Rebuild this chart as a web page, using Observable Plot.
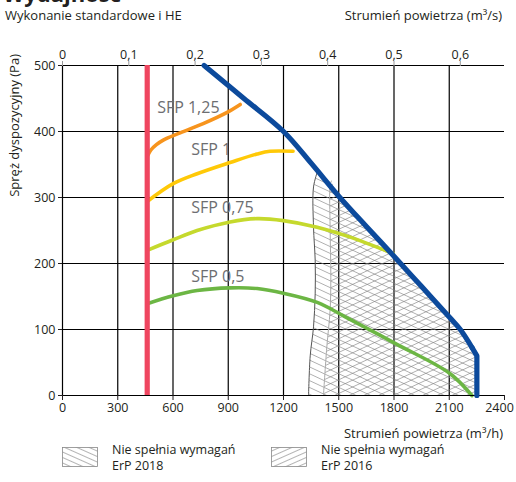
<!DOCTYPE html>
<html><head><meta charset="utf-8">
<script src="https://cdn.jsdelivr.net/npm/d3@7"></script>
<script src="https://cdn.jsdelivr.net/npm/@observablehq/plot@0.6"></script>
<style>body{margin:0;background:#fff}</style>
</head><body><div id="chart"></div>
<script>
// ---- tick labels ----
const xTicks = [0, 300, 600, 900, 1200, 1500, 1800, 2100, 2400];
const xGrid = [300, 600, 900, 1200, 1500, 1800, 2100];
const yTicks = [0, 100, 200, 300, 400, 500];
const topTicks = [0, 360, 720, 1080, 1440, 1800, 2160];          // m3/h equivalents
const topTickLabels = ["0", "0,1", "0,2", "0,3", "0,4", "0,5", "0,6"]; // m3/s

// ---- minimum flow (red) ----
const minFlow = [460];

// ---- maximum fan curve (blue): smooth part, then corner ----
const maxFlow = [769, 985, 1200, 1350, 1500, 1650, 1800, 1950, 2100, 2160, 2225];
const maxPressure = [500, 450, 400, 352, 302, 256, 211, 165, 119, 100, 72];
const maxCornerFlow = [2225, 2250, 2250];
const maxCornerPressure = [72, 60, 0];

// ---- SFP curves ----
const sfp125Flow = [460, 480, 510, 547, 639, 764, 894, 965];
const sfp125Pressure = [362, 372, 380, 387, 398, 412, 429, 441];
const sfp1Flow = [460, 601, 731, 910, 1057, 1127, 1252];
const sfp1Pressure = [294, 321, 336, 353, 366, 370, 370];
const sfp075Flow = [460, 601, 731, 910, 1057, 1199, 1383, 1562, 1796];
const sfp075Pressure = [220, 236, 250, 263, 268, 265, 255, 240, 215];
const sfp05Flow = [460, 601, 731, 910, 1057, 1199, 1383, 1530, 1806, 2105, 2223];
const sfp05Pressure = [139, 151, 159, 163, 162, 155, 141, 120, 79, 33, 0];

const sfpNames = ["SFP 1,25", "SFP 1", "SFP 0,75", "SFP 0,5"];
const sfpColors = ["#f7941d", "#ffc907", "#c5d92d", "#6cb644"];
const sfpLabelFlow = [514, 699, 699, 699];
const sfpLabelPressure = [436, 372, 284, 179];

// ---- ErP region left edges (the right edge is the blue curve) ----
const erp2018EdgeFlow = [1336, 1345, 1363, 1372, 1372, 1363, 1363, 1385];
const erp2018EdgePressure = [0, 60, 104, 154, 205, 255, 316, 340];
const erp2016EdgeFlow = [1417, 1435, 1453, 1457, 1453, 1453, 1460];
const erp2016EdgePressure = [0, 73, 129, 179, 255, 318, 325];

const legendNames = ["Nie spełnia wymagań", "Nie spełnia wymagań"];
const legendYears = ["ErP 2018", "ErP 2016"];

// ---- build tables ----
const zip = (fx, fy) => fx.map((x, i) => ({x, y: fy[i]}));
const maxCurve = zip(maxFlow, maxPressure);
const maxCorner = zip(maxCornerFlow, maxCornerPressure);
const sfpSeries = [
  zip(sfp125Flow, sfp125Pressure),
  zip(sfp1Flow, sfp1Pressure),
  zip(sfp075Flow, sfp075Pressure),
  zip(sfp05Flow, sfp05Pressure)
];
const sfpLabels = sfpNames.map((t, i) => ({t, x: sfpLabelFlow[i], y: sfpLabelPressure[i]}));
const edge2018 = zip(erp2018EdgeFlow, erp2018EdgePressure);
const edge2016 = zip(erp2016EdgeFlow, erp2016EdgePressure);
const region = edge => {
  const top = edge[edge.length - 1];
  return [...edge, ...maxCurve.filter(d => d.x > top.x), ...maxCorner.slice(1)];
};
const erp2018 = region(edge2018);
const erp2016 = region(edge2016);
const lastTick = xTicks[xTicks.length - 1];

const FONT = "'Open Sans', sans-serif";
const TXT = "#231f20";

const chart = Plot.plot({
  width: 516, height: 482,
  marginLeft: 62, marginRight: 12, marginTop: 65, marginBottom: 87,
  style: {fontFamily: FONT, fontSize: "12.5px", color: TXT, background: "#fff", overflow: "visible"},
  x: {domain: [0, 2400]},
  y: {domain: [0, 500]},
  marks: [
    Plot.gridY(yTicks, {stroke: "#000", strokeOpacity: 1, strokeWidth: 1.2}),
    Plot.gridX(xGrid, {stroke: "#000", strokeOpacity: 1, strokeWidth: 1.2}),
    Plot.line(erp2018, {x: "x", y: "y", fill: "url(#hatch2018)", stroke: "none"}),
    Plot.line(erp2016, {x: "x", y: "y", fill: "url(#hatch2016)", stroke: "none"}),
    Plot.line(edge2018, {x: "x", y: "y", stroke: "#555", strokeWidth: 1, curve: "catmull-rom"}),
    Plot.line(edge2016, {x: "x", y: "y", stroke: "#aaa", strokeWidth: 1, curve: "catmull-rom"}),
    ...sfpSeries.map((s, i) => Plot.line(s, {x: "x", y: "y", stroke: sfpColors[i], strokeWidth: 3.6, curve: "catmull-rom"})),
    Plot.ruleY([0], {stroke: "#000", strokeWidth: 1.2}),
    Plot.ruleX([0], {stroke: "#000", strokeWidth: 1.2}),
    Plot.ruleX(minFlow, {stroke: "#ef4660", strokeWidth: 5.2}),
    Plot.line(maxCurve, {x: "x", y: "y", stroke: "#0c4a9c", strokeWidth: 5.2, curve: "catmull-rom"}),
    Plot.line(maxCorner, {x: "x", y: "y", stroke: "#0c4a9c", strokeWidth: 5.2, curve: "linear", strokeLinejoin: "round"}),
    Plot.text(sfpLabels, {x: "x", y: "y", text: "t", textAnchor: "start", fill: "#6d6e71", fontSize: 16}),
    Plot.axisY({ticks: yTicks, tickSize: 4, tickPadding: 3, label: null}),
    Plot.axisX({anchor: "bottom", ticks: xTicks, tickSize: 5, tickPadding: 3, label: null,
      tickFormat: d => (d === lastTick ? "" : String(d))}),
    Plot.axisX({anchor: "bottom", ticks: [lastTick], tickSize: 0, tickPadding: 8, dx: -5, label: null,
      tickFormat: d => String(d)}),
    Plot.axisX({anchor: "top", ticks: topTicks, tickSize: 5, tickPadding: 2, stroke: "#999", label: null,
      tickFormat: d => topTickLabels[topTicks.indexOf(d)]})
  ]
});

const svg = d3.select(chart);
const defs = svg.insert("defs", ":first-child");
function hatch(id, angle, h) {
  const p = defs.append("pattern").attr("id", id).attr("patternUnits", "userSpaceOnUse")
    .attr("width", 20).attr("height", h).attr("patternTransform", `rotate(${angle})`);
  p.append("line").attr("x1", 0).attr("x2", 20).attr("y1", h / 2).attr("y2", h / 2)
    .attr("stroke", "#808080").attr("stroke-width", 0.6);
}
hatch("hatch2018", 25, 6.2);
hatch("hatch2016", -25, 6.2);
hatch("lhatch2018", 24, 5);
hatch("lhatch2016", -24, 5);

const g = svg.append("g").attr("font-family", FONT).attr("fill", TXT).attr("text-anchor", "start");
g.append("text").attr("x", 3).attr("y", 2).attr("font-size", 22).attr("font-weight", "bold").text("Wydajność");
g.append("text").attr("x", 5).attr("y", 20).attr("font-size", 13).text("Wykonanie standardowe i HE");
g.append("text").attr("x", 502).attr("y", 20).attr("font-size", 13).attr("text-anchor", "end").text("Strumień powietrza (m³/s)");
g.append("text").attr("transform", "translate(19,54) rotate(-90)").attr("font-size", 13).attr("text-anchor", "end").text("Spręż dyspozycyjny (Pa)");
g.append("text").attr("x", 503).attr("y", 438).attr("font-size", 13).attr("text-anchor", "end").text("Strumień powietrza (m³/h)");

const legX = [62, 271];
const legPat = ["lhatch2018", "lhatch2016"];
legX.forEach((lx, i) => {
  g.append("rect").attr("x", lx + 0.5).attr("y", 447.5).attr("width", 35).attr("height", 19)
    .attr("fill", `url(#${legPat[i]})`).attr("stroke", "#888").attr("stroke-width", 0.8);
  g.append("text").attr("x", lx + 50).attr("y", 454).attr("font-size", 12.5).text(legendNames[i]);
  g.append("text").attr("x", lx + 50).attr("y", 470).attr("font-size", 12.5).text(legendYears[i]);
});

document.getElementById("chart").appendChild(chart);
</script>
</body></html>
